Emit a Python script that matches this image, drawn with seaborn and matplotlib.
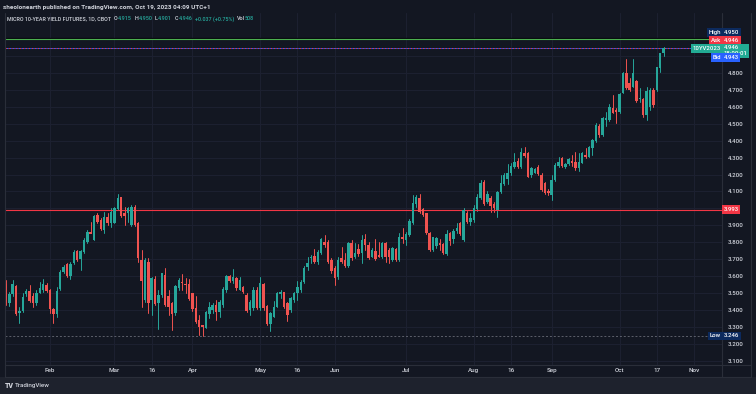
import numpy as np
import pandas as pd
import matplotlib
matplotlib.use("Agg")
import matplotlib.pyplot as plt
from matplotlib.lines import Line2D
from matplotlib.patches import Rectangle
import seaborn as sns

# ---------------- data (daily OHLC, MICRO 10-YEAR YIELD FUTURES) ----------------
opens = [3.555, 3.441, 3.494, 3.545, 3.382, 3.396, 3.496, 3.514, 3.484, 3.441,
         3.504, 3.520, 3.549, 3.520, 3.406, 3.378, 3.524, 3.624, 3.673, 3.604,
         3.677, 3.749, 3.702, 3.746, 3.804, 3.863, 3.814, 3.962, 3.932, 3.873,
         3.952, 3.912, 3.916, 3.995, 4.066, 3.971, 3.971, 3.903, 4.011, 3.916,
         3.696, 3.461, 3.687, 3.461, 3.583, 3.441, 3.490, 3.608, 3.484, 3.441,
         3.382, 3.529, 3.569, 3.555, 3.553, 3.500, 3.412, 3.343, 3.313, 3.298,
         3.378, 3.402, 3.431, 3.392, 3.431, 3.520, 3.602, 3.575, 3.588, 3.520,
         3.539, 3.490, 3.402, 3.412, 3.520, 3.412, 3.555, 3.425, 3.319, 3.363,
         3.421, 3.496, 3.510, 3.441, 3.402, 3.461, 3.500, 3.520, 3.569, 3.653,
         3.706, 3.720, 3.687, 3.736, 3.804, 3.804, 3.696, 3.647, 3.594, 3.706,
         3.696, 3.661, 3.799, 3.716, 3.759, 3.736, 3.818, 3.785, 3.716, 3.751,
         3.726, 3.712, 3.799, 3.755, 3.696, 3.759, 3.696, 3.830, 3.814, 3.844,
         3.912, 4.026, 4.060, 3.995, 3.971, 3.857, 3.755, 3.779, 3.795, 3.791,
         3.732, 3.854, 3.818, 3.869, 3.912, 3.814, 3.975, 3.922, 3.932, 3.995,
         4.060, 4.158, 4.040, 4.060, 4.026, 3.991, 4.099, 4.144, 4.172, 4.207,
         4.246, 4.282, 4.243, 4.325, 4.325, 4.197, 4.211, 4.243, 4.197, 4.148,
         4.105, 4.079, 4.168, 4.250, 4.296, 4.246, 4.262, 4.282, 4.276, 4.237,
         4.270, 4.315, 4.305, 4.354, 4.400, 4.486, 4.433, 4.521, 4.521, 4.590,
         4.580, 4.570, 4.682, 4.796, 4.737, 4.718, 4.753, 4.643, 4.643, 4.551,
         4.600, 4.698, 4.698, 4.826, 4.915]
highs = [3.579, 3.510, 3.579, 3.549, 3.421, 3.500, 3.524, 3.549, 3.500, 3.520,
         3.569, 3.583, 3.559, 3.528, 3.412, 3.539, 3.637, 3.667, 3.681, 3.687,
         3.755, 3.755, 3.755, 3.824, 3.873, 3.922, 3.962, 3.971, 3.942, 3.981,
         3.971, 4.001, 4.011, 4.085, 4.070, 4.011, 4.011, 4.020, 4.020, 3.922,
         3.755, 3.706, 3.706, 3.598, 3.602, 3.520, 3.622, 3.647, 3.520, 3.451,
         3.549, 3.588, 3.614, 3.588, 3.583, 3.504, 3.484, 3.372, 3.313, 3.398,
         3.451, 3.445, 3.461, 3.461, 3.535, 3.608, 3.608, 3.641, 3.594, 3.594,
         3.543, 3.500, 3.461, 3.539, 3.539, 3.598, 3.559, 3.431, 3.392, 3.457,
         3.510, 3.520, 3.510, 3.451, 3.480, 3.510, 3.575, 3.579, 3.661, 3.716,
         3.726, 3.761, 3.755, 3.824, 3.844, 3.814, 3.706, 3.661, 3.712, 3.775,
         3.736, 3.804, 3.814, 3.795, 3.791, 3.844, 3.850, 3.804, 3.765, 3.818,
         3.804, 3.804, 3.804, 3.765, 3.775, 3.765, 3.854, 3.883, 3.863, 3.936,
         4.079, 4.079, 4.085, 4.001, 3.975, 3.863, 3.834, 3.834, 3.818, 3.799,
         3.873, 3.863, 3.877, 3.912, 3.922, 4.001, 3.987, 3.975, 4.020, 4.085,
         4.168, 4.170, 4.105, 4.073, 4.040, 4.105, 4.197, 4.207, 4.262, 4.270,
         4.325, 4.296, 4.354, 4.360, 4.335, 4.243, 4.237, 4.256, 4.207, 4.158,
         4.113, 4.197, 4.270, 4.301, 4.305, 4.270, 4.296, 4.315, 4.335, 4.325,
         4.335, 4.354, 4.368, 4.407, 4.502, 4.498, 4.541, 4.570, 4.616, 4.669,
         4.590, 4.679, 4.806, 4.879, 4.767, 4.879, 4.757, 4.708, 4.649, 4.718,
         4.708, 4.708, 4.836, 4.918, 4.950]
lows = [3.431, 3.425, 3.484, 3.372, 3.327, 3.392, 3.484, 3.451, 3.421, 3.431,
        3.500, 3.510, 3.510, 3.382, 3.327, 3.359, 3.520, 3.618, 3.598, 3.583,
        3.673, 3.692, 3.637, 3.736, 3.795, 3.854, 3.814, 3.912, 3.873, 3.857,
        3.903, 3.893, 3.912, 3.991, 3.952, 3.903, 3.922, 3.897, 3.897, 3.687,
        3.421, 3.451, 3.386, 3.372, 3.431, 3.288, 3.480, 3.425, 3.372, 3.284,
        3.372, 3.520, 3.520, 3.500, 3.461, 3.398, 3.323, 3.255, 3.246, 3.294,
        3.353, 3.382, 3.343, 3.363, 3.421, 3.510, 3.569, 3.563, 3.520, 3.520,
        3.500, 3.392, 3.372, 3.402, 3.406, 3.402, 3.402, 3.313, 3.280, 3.359,
        3.418, 3.471, 3.412, 3.339, 3.392, 3.451, 3.461, 3.510, 3.559, 3.637,
        3.681, 3.677, 3.673, 3.732, 3.775, 3.677, 3.618, 3.549, 3.586, 3.677,
        3.657, 3.657, 3.696, 3.706, 3.720, 3.677, 3.755, 3.700, 3.712, 3.696,
        3.712, 3.706, 3.687, 3.677, 3.692, 3.692, 3.692, 3.795, 3.785, 3.838,
        3.909, 4.011, 3.975, 3.956, 3.850, 3.751, 3.751, 3.765, 3.755, 3.732,
        3.726, 3.785, 3.795, 3.854, 3.844, 3.810, 3.916, 3.903, 3.922, 3.987,
        4.054, 4.020, 4.030, 3.981, 3.981, 3.952, 4.089, 4.138, 4.144, 4.197,
        4.237, 4.237, 4.239, 4.305, 4.184, 4.188, 4.207, 4.197, 4.105, 4.085,
        4.079, 4.050, 4.164, 4.246, 4.243, 4.237, 4.256, 4.250, 4.227, 4.223,
        4.266, 4.296, 4.301, 4.315, 4.394, 4.423, 4.427, 4.486, 4.517, 4.565,
        4.502, 4.565, 4.679, 4.702, 4.694, 4.714, 4.629, 4.629, 4.541, 4.521,
        4.580, 4.600, 4.694, 4.806, 4.901]
closes = [3.445, 3.496, 3.553, 3.378, 3.396, 3.480, 3.514, 3.455, 3.445, 3.504,
          3.529, 3.555, 3.516, 3.406, 3.378, 3.516, 3.628, 3.653, 3.604, 3.673,
          3.746, 3.696, 3.749, 3.814, 3.863, 3.852, 3.956, 3.922, 3.877, 3.952,
          3.916, 3.981, 4.001, 4.060, 3.956, 3.956, 4.001, 4.011, 3.903, 3.706,
          3.575, 3.696, 3.441, 3.588, 3.437, 3.490, 3.618, 3.431, 3.421, 3.378,
          3.543, 3.579, 3.559, 3.549, 3.465, 3.406, 3.333, 3.304, 3.304, 3.392,
          3.421, 3.431, 3.392, 3.451, 3.524, 3.602, 3.575, 3.594, 3.529, 3.579,
          3.510, 3.398, 3.451, 3.520, 3.412, 3.559, 3.412, 3.319, 3.382, 3.421,
          3.500, 3.506, 3.421, 3.372, 3.471, 3.504, 3.539, 3.569, 3.647, 3.681,
          3.716, 3.687, 3.745, 3.820, 3.785, 3.687, 3.634, 3.588, 3.696, 3.687,
          3.661, 3.795, 3.706, 3.736, 3.732, 3.814, 3.785, 3.706, 3.755, 3.700,
          3.716, 3.795, 3.712, 3.716, 3.765, 3.696, 3.830, 3.818, 3.850, 3.928,
          4.030, 4.070, 3.981, 3.962, 3.854, 3.755, 3.830, 3.824, 3.785, 3.740,
          3.850, 3.810, 3.869, 3.883, 3.850, 3.991, 3.922, 3.942, 4.001, 4.070,
          4.152, 4.026, 4.085, 4.015, 4.001, 4.099, 4.152, 4.197, 4.211, 4.250,
          4.276, 4.246, 4.335, 4.309, 4.188, 4.237, 4.231, 4.203, 4.109, 4.089,
          4.093, 4.168, 4.256, 4.276, 4.250, 4.262, 4.290, 4.266, 4.237, 4.276,
          4.325, 4.301, 4.360, 4.404, 4.492, 4.433, 4.531, 4.531, 4.600, 4.565,
          4.570, 4.675, 4.796, 4.708, 4.698, 4.796, 4.635, 4.649, 4.551, 4.694,
          4.698, 4.610, 4.832, 4.914, 4.946]

holidays = ["2023-01-16", "2023-02-20", "2023-05-29", "2023-06-19", "2023-07-04", "2023-09-04"]
first_day, last_day = "2023-01-12", "2023-10-19"

tick_dates = ["2023-02-01", "2023-03-01", "2023-03-16", "2023-04-03", "2023-05-01", "2023-05-16",
              "2023-06-01", "2023-07-03", "2023-08-01", "2023-08-16", "2023-09-01", "2023-10-02",
              "2023-10-17", "2023-11-01"]
tick_labels = ["Feb", "Mar", "16", "Apr", "May", "16", "Jun", "Jul", "Aug", "16", "Sep", "Oct", "17", "Nov"]

grid_prices = [3.1, 3.2, 3.3, 3.4, 3.5, 3.6, 3.7, 3.8, 3.9, 4.0, 4.1, 4.2, 4.3, 4.4, 4.5, 4.6, 4.7, 4.8, 4.9]
hidden_price_labels = [4.0, 4.9]
level_line = 3.993
low_level = 3.246
ask_price, bid_price, last_price, high_price = 4.946, 4.943, 4.946, 4.950
green_line = 5.000

# ---------------- style ----------------
W, H = 756, 394
BG = "#131722"
OUTER = "#1e222d"
GRID = "#1c2030"
BORDER = "#2a2e39"
TXT = "#d1d4dc"
GREEN = "#26a69a"
RED = "#ef5350"

sns.set_theme(style="dark", rc={"axes.facecolor": BG, "figure.facecolor": BG,
                                "savefig.facecolor": BG})
plt.rcParams["font.family"] = ["Roboto", "DejaVu Sans"]

# ---------------- calendar / positions ----------------
all_days = pd.bdate_range(first_day, "2023-11-30")
all_days = all_days[~all_days.isin(pd.to_datetime(holidays))]
dates = all_days[all_days <= pd.Timestamp(last_day)]
n = len(opens)
assert len(dates) == n
idx = np.arange(n)
tick_pos = [int(all_days.searchsorted(pd.Timestamp(d))) for d in tick_dates]

o = np.array(opens); h = np.array(highs); l = np.array(lows); c = np.array(closes)
direction = np.where(c >= o, "up", "down")

df = pd.DataFrame({"date": dates, "x": idx, "open": o, "high": h, "low": l,
                   "close": c, "dir": direction})
wick_df = pd.DataFrame({
    "x": np.repeat(idx, 2),
    "price": np.column_stack([l, h]).ravel(),
    "bar": np.repeat(idx, 2),
    "dir": np.repeat(direction, 2),
})

# ---------------- figure ----------------
fig = plt.figure(figsize=(W / 100, H / 100), dpi=100)
fig.patch.set_facecolor(BG)

def px(x):
    return x / W

def py(y):
    return 1 - y / H

fig.patches.append(Rectangle((0, 0), 1, py(377), transform=fig.transFigure,
                             facecolor=OUTER, edgecolor="none", zorder=0))

ax_left, ax_right, ax_top, ax_bot = 4.7, 722.0, 13.0, 365.3
ax = fig.add_axes([px(ax_left), py(ax_bot), px(ax_right - ax_left), (ax_bot - ax_top) / H])
ax.set_facecolor(BG)

# wicks through seaborn
sns.lineplot(data=wick_df, x="x", y="price", units="bar", estimator=None, hue="dir",
             palette={"up": GREEN, "down": RED}, linewidth=0.7, legend=False,
             sort=False, ax=ax)
# bodies
body_bottom = np.minimum(o, c)
body_height = np.maximum(np.abs(c - o), 0.004)
ax.bar(df["x"], body_height, bottom=body_bottom, width=0.72,
       color=[GREEN if d == "up" else RED for d in direction], linewidth=0, zorder=3)

# axes range
x_per_px = 1 / 3.39
ax.set_xlim(13 - (50 - ax_left) * x_per_px, 13 + (ax_right - 50) * x_per_px)
ppx = 169.7
ax.set_ylim(4.8 - (ax_bot - 72.7) / ppx, 4.8 + (72.7 - ax_top) / ppx)

# grid + ticks
ax.set_xticks(tick_pos)
ax.set_xticklabels(tick_labels)
ax.set_yticks(grid_prices)
ax.set_yticklabels(["" if any(abs(v - hpl) < 1e-9 for hpl in hidden_price_labels) else f"{v:.3f}"
                    for v in grid_prices])
ax.grid(True, color=GRID, linewidth=0.8)
ax.yaxis.tick_right()
ax.tick_params(axis="y", length=0, pad=4.0, labelsize=4.4, labelcolor=TXT)
ax.tick_params(axis="x", length=0, pad=2.2, labelsize=4.5, labelcolor=TXT)
for lab in ax.get_xticklabels() + ax.get_yticklabels():
    lab.set_fontweight("medium")
ax.set_xlabel("")
ax.set_ylabel("")
for s in ax.spines.values():
    s.set_visible(False)

# horizontal lines
ax.axhline(level_line, color="#f23645", linewidth=0.8, zorder=2)
ax.axhline(low_level, color="#5d606b", linewidth=0.7, linestyle=(0, (2, 2)), zorder=2)
ax.axhline(green_line + 0.006, color="#05070b", linewidth=0.9, zorder=2)
ax.axhline(green_line, color="#4caf50", linewidth=0.8, zorder=2)
ax.axhline(last_price, color="#f23645", linewidth=0.7, linestyle=(0, (1.5, 1.5)), zorder=2)
ax.axhline(bid_price, color="#2962ff", linewidth=0.7, linestyle=(1.5, (1.5, 1.5)), zorder=2)

# frame lines
def fline(x0, y0, x1, y1):
    fig.lines.append(Line2D([px(x0), px(x1)], [py(y0), py(y1)], transform=fig.transFigure,
                            color=BORDER, linewidth=0.8))

fline(ax_left, 13, ax_left, 377)
fline(722, 13, 722, 377)
fline(751, 13, 751, 377)
fline(ax_left, 365.3, 751, 365.3)
fline(ax_left, 377, 751, 377)

# right-hand price labels
def tag(x, y, text, fc, tc="#ffffff", ha="left", size=4.3, ls=1.2):
    fig.text(px(x), py(y), text, ha=ha, va="center", fontsize=size, color=tc,
             linespacing=ls, fontweight="medium",
             bbox=dict(boxstyle="square,pad=0.3", fc=fc, ec="none"), zorder=10)

tag(723.5, 32.5, f"{high_price:.3f}", "#0c2a5e")
tag(721.0, 32.5, "High", "#0c2a5e", ha="right")
tag(723.5, 40.0, f"{ask_price:.3f}", "#f23645")
tag(721.0, 40.0, "Ask", "#f23645", ha="right")
tag(723.5, 50.8, f"{last_price:.3f}\n18:00:01", "#22ab94")
tag(721.0, 48.3, "10YV2023", "#22ab94", ha="right")
tag(723.5, 57.6, f"{bid_price:.3f}", "#2962ff")
tag(721.0, 57.6, "Bid", "#2962ff", ha="right")
tag(723.5, 209.6, f"{level_line:.3f}", "#f23645")
tag(723.5, 335.8, f"{low_level:.3f}", "#0c2a5e")
tag(721.0, 335.8, "Low", "#0c2a5e", ha="right")

# header and legend
fig.text(px(3), py(8), "sheolonearth published on TradingView.com, Oct 19, 2023 04:09 UTC+1",
         fontsize=4.6, color=TXT, fontweight="bold", va="center")
legend_items = [(7, "MICRO 10-YEAR YIELD FUTURES, 1D, CBOT", TXT),
                (114, "O", TXT), (117.5, "4.915", GREEN),
                (135, "H", TXT), (138.5, "4.950", GREEN),
                (155, "L", TXT), (158, "4.901", GREEN),
                (175, "C", TXT), (178.5, "4.946", GREEN),
                (195, "+0.037 (+0.75%)", GREEN),
                (237, "Vol", TXT), (245, "508", GREEN)]
for x, t, col in legend_items:
    fig.text(px(x), py(19), t, fontsize=3.9, color=col, va="center", fontweight="medium")

fig.text(px(5), py(385.5), "TV", fontsize=5, color=TXT, fontweight="heavy", va="center")
fig.text(px(15), py(385.5), "TradingView", fontsize=4.5, color=TXT, va="center", fontweight="medium")

fig.savefig("out.png", dpi=100, facecolor=BG)
